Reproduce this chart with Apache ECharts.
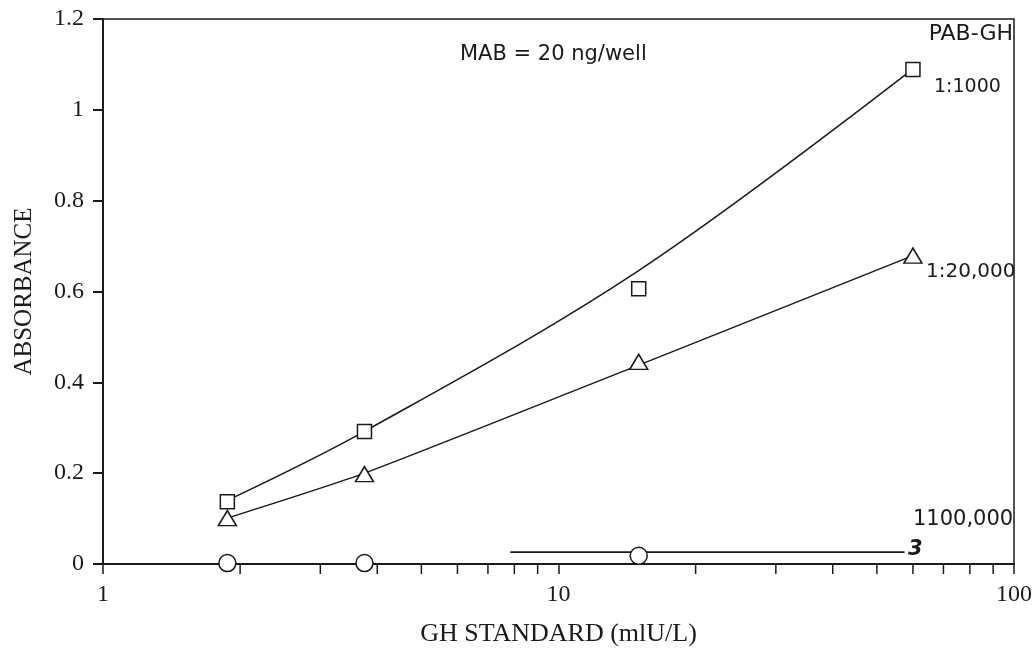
<!DOCTYPE html>
<html>
<head>
<meta charset="utf-8">
<script src="https://cdn.jsdelivr.net/npm/echarts@6/dist/echarts.min.js"></script>
<style>
html,body{margin:0;padding:0;background:#fff;}
#chart{width:1035px;height:652px;}
</style>
</head>
<body>
<div id="chart"></div>
<script>
// GH standard doses (mIU/L)
const doses = [1.875, 3.75, 15, 60];
// measured absorbance, PAB-GH dilutions
const pab1000 = [0.137, 0.292, 0.606, 1.089];
const pab20000 = [0.101, 0.198, 0.445, 0.679];
const pab100000Doses = [1.875, 3.75, 15];
const pab100000 = [0.002, 0.002, 0.018];
// fitted curves as drawn in the figure
const fit1000 = [0.14, 0.292, 0.646, 1.09];
const fit20000 = [0.101, 0.2, 0.438, 0.679];
// flat trace of the 1:100,000 curve
const flatX = [7.84, 57.5];
const flatY = [0.026, 0.026];
// axis ticks
const yTicks = [0, 0.2, 0.4, 0.6, 0.8, 1, 1.2];
const minorTicks = [2, 3, 4, 5, 6, 7, 8, 9, 20, 30, 40, 50, 60, 70, 80, 90];

const INK = '#1a1a1a';
const SERIF = '"Liberation Serif", "Times New Roman", serif';
const SANS = '"DejaVu Sans", sans-serif';

const zip = (xs, ys) => xs.map((x, i) => [x, ys[i]]);

const chart = echarts.init(document.getElementById('chart'));
chart.setOption({
  animation: false,
  backgroundColor: '#fff',
  grid: {left: 103, right: 15, top: 19, bottom: 87, show: true, borderColor: INK, borderWidth: 1.5, backgroundColor: 'transparent'},
  xAxis: {
    type: 'log', logBase: 10, min: 1, max: 100,
    name: 'GH STANDARD (mlU/L)', nameLocation: 'middle', nameGap: 57,
    nameTextStyle: {fontFamily: SERIF, fontSize: 26, color: INK},
    axisLine: {show: true, lineStyle: {color: INK, width: 2}},
    axisTick: {show: true, inside: false, length: 10, lineStyle: {color: INK, width: 1.5}},
    axisLabel: {margin: 19, fontFamily: SERIF, fontSize: 24, color: INK},
    splitLine: {show: false}, minorTick: {show: false}
  },
  yAxis: {
    type: 'value', min: 0, max: 1.2, interval: 0.2,
    name: 'ABSORBANCE', nameLocation: 'middle', nameGap: 66, nameRotate: 90,
    nameTextStyle: {fontFamily: SERIF, fontSize: 25, color: INK},
    axisLine: {show: true, lineStyle: {color: INK, width: 2}},
    axisTick: {show: true, inside: false, length: 10, lineStyle: {color: INK, width: 2}},
    axisLabel: {margin: 19, fontFamily: SERIF, fontSize: 24, color: INK,
      formatter: v => String(yTicks.find(t => Math.abs(t - v) < 1e-9) ?? v)},
    splitLine: {show: false}
  },
  graphic: [
    {type: 'text', left: 460, top: 44, style: {text: 'MAB = 20 ng/well', font: '21px ' + SANS, fill: INK}},
    {type: 'text', right: 22, top: 23, style: {text: 'PAB-GH', font: '22px ' + SANS, fill: INK}},
    {type: 'text', left: 934, top: 78, style: {text: '1:1000', font: '19px ' + SANS, fill: INK}},
    {type: 'text', left: 926, top: 262, style: {text: '1:20,000', font: '20px ' + SANS, fill: INK}},
    {type: 'text', left: 913, top: 509, style: {text: '1100,000', font: '21px ' + SANS, fill: INK}},
    {type: 'text', left: 908, top: 539, style: {text: '3', font: 'italic bold 21px ' + SANS, fill: INK}}
  ],
  series: [
    {type: 'line', data: zip(doses, fit1000), smooth: 0.35, showSymbol: false, symbol: 'none',
      lineStyle: {color: INK, width: 1.5}, z: 2},
    {type: 'line', data: zip(doses, fit20000), smooth: 0.2, showSymbol: false, symbol: 'none',
      lineStyle: {color: INK, width: 1.5}, z: 2},
    {type: 'line', data: zip(flatX, flatY), showSymbol: false, symbol: 'none',
      lineStyle: {color: INK, width: 1.8}, z: 2},
    {type: 'scatter', data: zip(doses, pab1000), symbol: 'rect', symbolSize: 14,
      itemStyle: {color: '#fff', borderColor: INK, borderWidth: 1.5, opacity: 1}, z: 5},
    {type: 'scatter', data: zip(doses, pab20000), symbol: 'triangle', symbolSize: [18, 15],
      itemStyle: {color: '#fff', borderColor: INK, borderWidth: 1.5, opacity: 1}, z: 5},
    {type: 'scatter', data: zip(pab100000Doses, pab100000), symbol: 'circle', symbolSize: 17,
      itemStyle: {color: '#fff', borderColor: INK, borderWidth: 1.5, opacity: 1}, z: 5},
    {type: 'custom', data: minorTicks.map(v => [v, 0]), clip: false, silent: true, z: 6,
      renderItem: function (params, api) {
        const p = api.coord([api.value(0), 0]);
        return {type: 'line', shape: {x1: p[0], y1: p[1], x2: p[0], y2: p[1] + 10},
          style: {stroke: INK, lineWidth: 1.5}};
      }}
  ]
});
</script>
</body>
</html>
